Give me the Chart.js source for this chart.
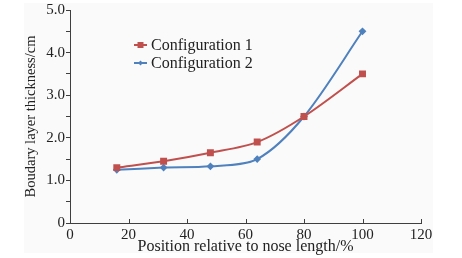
<!DOCTYPE html>
<html>
<head>
<meta charset="utf-8">
<script src="https://cdn.jsdelivr.net/npm/chart.js@4/dist/chart.umd.min.js"></script>
<style>
  html, body { margin: 0; padding: 0; background: #fff; }
  #wrap { width: 462px; height: 258px; }
</style>
</head>
<body>
<div id="wrap"><canvas id="myChart" width="462" height="258"></canvas></div>
<script>
// positions along the nose (%)
const positions = [16, 32, 48, 64, 80, 100];
// boundary layer thickness (cm)
const config1 = [1.3, 1.45, 1.65, 1.9, 2.5, 3.5];
const config2 = [1.25, 1.3, 1.33, 1.5, 2.5, 4.5];
const seriesNames = ['Configuration 1', 'Configuration 2'];

const serif = "'Liberation Serif', 'Times New Roman', Times, serif";
const axisColor = '#3f3f3f';

// light panel behind the whole figure
const panelBg = {
    id: 'panelBg',
    beforeDraw(chart) {
        const c = chart.ctx;
        c.save();
        c.fillStyle = '#fafafa';
        c.fillRect(24, 3, 409, 250);
        c.restore();
    }
};

// x ticks point up into the plot
const innerTicks = {
    id: 'innerTicks',
    afterDraw(chart) {
        const c = chart.ctx, xs = chart.scales.x, bottom = chart.chartArea.bottom;
        c.save();
        c.strokeStyle = axisColor;
        c.lineWidth = 1;
        xs.ticks.forEach(t => {
            const px = Math.round(xs.getPixelForValue(t.value)) + 0.5;
            c.beginPath();
            c.moveTo(px, bottom);
            c.lineTo(px, bottom - 4);
            c.stroke();
        });
        c.restore();
    }
};

// legend drawn inside the plot
const innerLegend = {
    id: 'innerLegend',
    afterDatasetsDraw(chart) {
        const c = chart.ctx, a = chart.chartArea;
        c.save();
        c.font = '16px ' + serif;
        c.textBaseline = 'middle';
        chart.data.datasets.forEach((ds, i) => {
            const y = a.top + 35 + i * 18;
            const x0 = a.left + 64;
            c.strokeStyle = ds.borderColor;
            c.lineWidth = 2;
            c.beginPath();
            c.moveTo(x0, y);
            c.lineTo(x0 + 13, y);
            c.stroke();
            c.fillStyle = ds.borderColor;
            if (i === 0) {
                c.fillRect(x0 + 3.5, y - 3, 6, 6);
            } else {
                c.beginPath();
                c.moveTo(x0 + 6.5, y - 2.5);
                c.lineTo(x0 + 9, y);
                c.lineTo(x0 + 6.5, y + 2.5);
                c.lineTo(x0 + 4, y);
                c.closePath();
                c.fill();
            }
            c.fillStyle = '#222';
            c.fillText(ds.label, x0 + 17, y + 1);
        });
        c.restore();
    }
};

new Chart(document.getElementById('myChart'), {
    type: 'line',
    data: {
        datasets: [{
            label: seriesNames[0],
            data: positions.map((p, i) => ({x: p, y: config1[i]})),
            borderColor: '#c0504d',
            backgroundColor: '#c0504d',
            borderWidth: 2,
            pointStyle: 'rect',
            pointRadius: 3.5,
            tension: 0.3
        }, {
            label: seriesNames[1],
            data: positions.map((p, i) => ({x: p, y: config2[i]})),
            borderColor: '#4f81bd',
            backgroundColor: '#4f81bd',
            borderWidth: 2,
            pointStyle: 'rectRot',
            pointRadius: 2.5,
            tension: 0.3
        }]
    },
    options: {
        responsive: false,
        animation: false,
        layout: { padding: { left: 21, top: 0, right: 41, bottom: 2 } },
        plugins: { legend: { display: false }, tooltip: { enabled: false } },
        scales: {
            x: {
                type: 'linear',
                min: 0, max: 120,
                border: { color: axisColor, width: 1 },
                grid: { display: false, drawTicks: false },
                ticks: { stepSize: 20, color: '#222', padding: 3, font: { family: serif, size: 15 } },
                title: { display: true, text: 'Position relative to nose length/%', color: '#222',
                         padding: { top: 0, bottom: 0 }, font: { family: serif, size: 16 } },
                afterFit(s) { s.height = 33; }
            },
            y: {
                min: 0, max: 5,
                border: { color: axisColor, width: 1 },
                grid: { drawOnChartArea: false, drawTicks: true, tickLength: 4, color: axisColor },
                ticks: {
                    stepSize: 0.5, color: '#222', padding: 1, font: { family: serif, size: 15 },
                    callback: v => v === 0 ? '0' : (Math.abs(v % 1) < 1e-9 ? v.toFixed(1) : '')
                },
                title: { display: true, text: 'Boudary layer thickness/cm', color: '#222',
                         padding: { top: 1, bottom: 0 }, font: { family: serif, size: 14.5 } },
                afterFit(s) { s.width = 49; }
            }
        }
    },
    plugins: [panelBg, innerTicks, innerLegend]
});
</script>
</body>
</html>
